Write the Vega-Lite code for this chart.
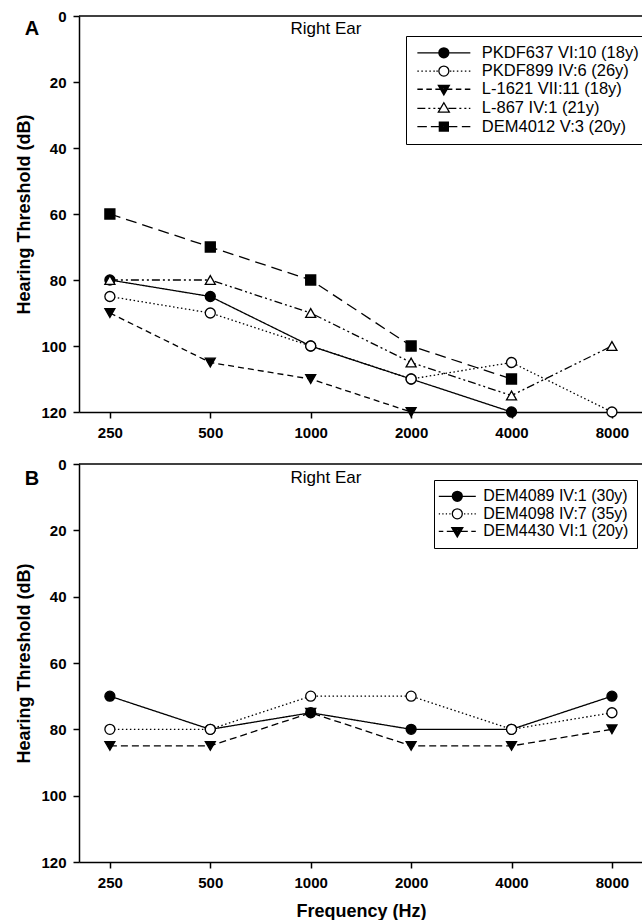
{
  "$schema": "https://vega.github.io/schema/vega-lite/v6.json",
  "padding": {"left": 15, "top": 9, "right": 0, "bottom": 0},
  "autosize": {"type": "pad"},
  "background": "white",
  "config": {
    "font": "Liberation Sans",
    "view": {"stroke": null},
    "axis": {"domainColor": "black", "domainWidth": 1.5, "tickColor": "black", "tickWidth": 1.5, "tickSize": 6, "labelColor": "black", "labelFont": "Liberation Sans", "labelFontSize": 15, "labelFontWeight": "bold", "titleFont": "Liberation Sans", "titleFontSize": 18, "titleFontWeight": "bold", "titleColor": "black", "grid": false, "labelFlush": false},
    "legend": {"labelFont": "Liberation Sans", "labelFontSize": 16.5, "labelColor": "black", "labelLimit": 300},
    "text": {"font": "Liberation Sans", "color": "black"},
    "point": {"size": 100, "strokeWidth": 1.3, "stroke": "black", "opacity": 1, "filled": true}
  },
  "datasets": {
    "a": [
      {"subject": "PKDF637 VI:10 (18y)", "freq": 250, "db": 80},
      {"subject": "PKDF637 VI:10 (18y)", "freq": 500, "db": 85},
      {"subject": "PKDF637 VI:10 (18y)", "freq": 1000, "db": 100},
      {"subject": "PKDF637 VI:10 (18y)", "freq": 2000, "db": 110},
      {"subject": "PKDF637 VI:10 (18y)", "freq": 4000, "db": 120},
      {"subject": "PKDF899 IV:6 (26y)", "freq": 250, "db": 85},
      {"subject": "PKDF899 IV:6 (26y)", "freq": 500, "db": 90},
      {"subject": "PKDF899 IV:6 (26y)", "freq": 1000, "db": 100},
      {"subject": "PKDF899 IV:6 (26y)", "freq": 2000, "db": 110},
      {"subject": "PKDF899 IV:6 (26y)", "freq": 4000, "db": 105},
      {"subject": "PKDF899 IV:6 (26y)", "freq": 8000, "db": 120},
      {"subject": "L-1621 VII:11 (18y)", "freq": 250, "db": 90},
      {"subject": "L-1621 VII:11 (18y)", "freq": 500, "db": 105},
      {"subject": "L-1621 VII:11 (18y)", "freq": 1000, "db": 110},
      {"subject": "L-1621 VII:11 (18y)", "freq": 2000, "db": 120},
      {"subject": "L-867 IV:1 (21y)", "freq": 250, "db": 80},
      {"subject": "L-867 IV:1 (21y)", "freq": 500, "db": 80},
      {"subject": "L-867 IV:1 (21y)", "freq": 1000, "db": 90},
      {"subject": "L-867 IV:1 (21y)", "freq": 2000, "db": 105},
      {"subject": "L-867 IV:1 (21y)", "freq": 4000, "db": 115},
      {"subject": "L-867 IV:1 (21y)", "freq": 8000, "db": 100},
      {"subject": "DEM4012 V:3 (20y)", "freq": 250, "db": 60},
      {"subject": "DEM4012 V:3 (20y)", "freq": 500, "db": 70},
      {"subject": "DEM4012 V:3 (20y)", "freq": 1000, "db": 80},
      {"subject": "DEM4012 V:3 (20y)", "freq": 2000, "db": 100},
      {"subject": "DEM4012 V:3 (20y)", "freq": 4000, "db": 110}
    ],
    "b": [
      {"subject": "DEM4089 IV:1 (30y)", "freq": 250, "db": 70},
      {"subject": "DEM4089 IV:1 (30y)", "freq": 500, "db": 80},
      {"subject": "DEM4089 IV:1 (30y)", "freq": 1000, "db": 75},
      {"subject": "DEM4089 IV:1 (30y)", "freq": 2000, "db": 80},
      {"subject": "DEM4089 IV:1 (30y)", "freq": 4000, "db": 80},
      {"subject": "DEM4089 IV:1 (30y)", "freq": 8000, "db": 70},
      {"subject": "DEM4098 IV:7 (35y)", "freq": 250, "db": 80},
      {"subject": "DEM4098 IV:7 (35y)", "freq": 500, "db": 80},
      {"subject": "DEM4098 IV:7 (35y)", "freq": 1000, "db": 70},
      {"subject": "DEM4098 IV:7 (35y)", "freq": 2000, "db": 70},
      {"subject": "DEM4098 IV:7 (35y)", "freq": 4000, "db": 80},
      {"subject": "DEM4098 IV:7 (35y)", "freq": 8000, "db": 75},
      {"subject": "DEM4430 VI:1 (20y)", "freq": 250, "db": 85},
      {"subject": "DEM4430 VI:1 (20y)", "freq": 500, "db": 85},
      {"subject": "DEM4430 VI:1 (20y)", "freq": 1000, "db": 75},
      {"subject": "DEM4430 VI:1 (20y)", "freq": 2000, "db": 85},
      {"subject": "DEM4430 VI:1 (20y)", "freq": 4000, "db": 85},
      {"subject": "DEM4430 VI:1 (20y)", "freq": 8000, "db": 80}
    ]
  },
  "resolve": {
    "scale": {"shape": "independent", "strokeDash": "independent"},
    "legend": {"shape": "independent", "strokeDash": "independent"}
  },
  "spacing": 17,
  "vconcat": [
    {
      "width": 564,
      "height": 396,
      "data": {"name": "a"},
      "layer": [
        {
          "data": {"values": [{}]},
          "mark": {"type": "rule", "color": "black", "strokeWidth": 1.5},
          "encoding": {"y": {"datum": 0, "type": "quantitative"}}
        },
        {
          "mark": {"type": "line", "color": "black", "strokeWidth": 1.3},
          "encoding": {
            "x": {"field": "freq", "type": "quantitative", "scale": {"type": "log", "base": 2, "domain": [202, 9913], "nice": false},
                  "axis": {"orient": "bottom", "values": [250, 500, 1000, 2000, 4000, 8000], "format": "d", "title": null, "labelPadding": 7}},
            "y": {"field": "db", "type": "quantitative", "scale": {"domain": [0, 120], "reverse": true, "nice": false, "zero": false},
                  "axis": {"values": [0, 20, 40, 60, 80, 100, 120], "title": "Hearing Threshold (dB)", "labelPadding": 7, "titlePadding": 7}},
            "strokeDash": {"field": "subject", "type": "nominal", "sort": null,
              "scale": {"range": [[1, 0], [1.5, 2.5], [6, 4], [8, 3, 2, 3, 2, 3], [11, 6]]},
              "legend": null}
          }
        },
        {
          "mark": {"type": "point", "filled": false, "color": "black", "opacity": 0, "strokeWidth": 1.3},
          "encoding": {
            "x": {"field": "freq", "type": "quantitative"},
            "y": {"field": "db", "type": "quantitative"},
            "shape": {"field": "subject", "type": "nominal",
              "scale": {"domain": ["PKDF637 VI:10 (18y)", "PKDF899 IV:6 (26y)", "L-1621 VII:11 (18y)", "L-867 IV:1 (21y)", "DEM4012 V:3 (20y)"],
                "range": [
                  "M-5.3,0H5.3M1,0A1,1 0 1,1 -1,0A1,1 0 1,1 1,0ZM0.75,0A0.75,0.75 0 1,1 -0.75,0A0.75,0.75 0 1,1 0.75,0ZM0.5,0A0.5,0.5 0 1,1 -0.5,0A0.5,0.5 0 1,1 0.5,0ZM0.25,0A0.25,0.25 0 1,1 -0.25,0A0.25,0.25 0 1,1 0.25,0Z",
                  "M-5.3,0h0.3M-4.5,0h0.3M-3.7,0h0.3M-2.9,0h0.3M-2.1,0h0.3M-1.5,0h0.3M1.2,0h0.3M1.8,0h0.3M2.6,0h0.3M3.4,0h0.3M4.2,0h0.3M5.0,0h0.3M1,0A1,1 0 1,1 -1,0A1,1 0 1,1 1,0Z",
                  "M-5.3,0H-4.2M-3.5,0H-2.4M-1.7,0H-0.7M0.7,0H1.7M2.4,0H3.5M4.2,0H5.3M-1.1,-0.75L1.1,-0.75L0,1.15ZM-0.825,-0.592L0.825,-0.592L0,0.834ZM-0.55,-0.433L0.55,-0.433L0,0.517ZM-0.275,-0.275L0.275,-0.275L0,0.2Z",
                  "M-5.3,0H-3.7M-3.1,0H-2.7M-2.1,0H-1.7M-1.2,0H-0.8M0.9,0H2.5M3.1,0H3.5M4.1,0H4.5M5.0,0H5.3M-1.1,0.75L1.1,0.75L0,-1.15Z",
                  "M-5.3,0H-3.4M-2.6,0H-0.9M0.9,0H2.7M3.6,0H5.3M-0.9,-0.9H0.9V0.9H-0.9ZM-0.65,-0.65H0.65V0.65H-0.65ZM-0.4,-0.4H0.4V0.4H-0.4ZM-0.15,-0.15H0.15V0.15H-0.15Z"
                ]},
              "legend": {"title": null, "orient": "none", "legendX": 327, "legendY": 20, "symbolSize": 100, "symbolStrokeWidth": 1.3, "symbolOpacity": 1, "symbolOffset": 21, "labelOffset": 29.7, "strokeColor": "black", "padding": 8.6, "rowPadding": 1.2}}
          }
        },
        {
          "transform": [{"filter": {"field": "subject", "equal": "PKDF637 VI:10 (18y)"}}],
          "mark": {"type": "point", "shape": "circle", "fill": "black"},
          "encoding": {"x": {"field": "freq", "type": "quantitative"}, "y": {"field": "db", "type": "quantitative"}}
        },
        {
          "transform": [{"filter": {"field": "subject", "equal": "PKDF899 IV:6 (26y)"}}],
          "mark": {"type": "point", "shape": "circle", "fill": "white"},
          "encoding": {"x": {"field": "freq", "type": "quantitative"}, "y": {"field": "db", "type": "quantitative"}}
        },
        {
          "transform": [{"filter": {"field": "subject", "equal": "L-1621 VII:11 (18y)"}}],
          "mark": {"type": "point", "shape": "triangle-down", "fill": "black"},
          "encoding": {"x": {"field": "freq", "type": "quantitative"}, "y": {"field": "db", "type": "quantitative"}}
        },
        {
          "transform": [{"filter": {"field": "subject", "equal": "L-867 IV:1 (21y)"}}],
          "mark": {"type": "point", "shape": "triangle-up", "fill": "white"},
          "encoding": {"x": {"field": "freq", "type": "quantitative"}, "y": {"field": "db", "type": "quantitative"}}
        },
        {
          "transform": [{"filter": {"field": "subject", "equal": "DEM4012 V:3 (20y)"}}],
          "mark": {"type": "point", "shape": "square", "fill": "black"},
          "encoding": {"x": {"field": "freq", "type": "quantitative"}, "y": {"field": "db", "type": "quantitative"}}
        },
        {
          "data": {"values": [{}]},
          "mark": {"type": "text", "fontSize": 17, "align": "center", "baseline": "middle"},
          "encoding": {"x": {"datum": 1111, "type": "quantitative"}, "y": {"datum": 3.9, "type": "quantitative"}, "text": {"value": "Right Ear"}}
        },
        {
          "data": {"values": [{}]},
          "mark": {"type": "text", "fontSize": 20, "fontWeight": "bold", "align": "center", "baseline": "middle"},
          "encoding": {"x": {"datum": 146, "type": "quantitative"}, "y": {"datum": 3.8, "type": "quantitative"}, "text": {"value": "A"}}
        }
      ]
    },
    {
      "width": 564,
      "height": 398,
      "data": {"name": "b"},
      "layer": [
        {
          "data": {"values": [{}]},
          "mark": {"type": "rule", "color": "black", "strokeWidth": 1.5},
          "encoding": {"y": {"datum": 0, "type": "quantitative"}}
        },
        {
          "mark": {"type": "line", "color": "black", "strokeWidth": 1.3},
          "encoding": {
            "x": {"field": "freq", "type": "quantitative", "scale": {"type": "log", "base": 2, "domain": [202, 9913], "nice": false},
                  "axis": {"orient": "bottom", "values": [250, 500, 1000, 2000, 4000, 8000], "format": "d", "title": "Frequency (Hz)", "labelPadding": 7, "titlePadding": 12}},
            "y": {"field": "db", "type": "quantitative", "scale": {"domain": [0, 120], "reverse": true, "nice": false, "zero": false},
                  "axis": {"values": [0, 20, 40, 60, 80, 100, 120], "title": "Hearing Threshold (dB)", "labelPadding": 7, "titlePadding": 7}},
            "strokeDash": {"field": "subject", "type": "nominal", "sort": null,
              "scale": {"range": [[1, 0], [1.5, 2.5], [7, 4]]},
              "legend": null}
          }
        },
        {
          "mark": {"type": "point", "filled": false, "color": "black", "opacity": 0, "strokeWidth": 1.3},
          "encoding": {
            "x": {"field": "freq", "type": "quantitative"},
            "y": {"field": "db", "type": "quantitative"},
            "shape": {"field": "subject", "type": "nominal",
              "scale": {"domain": ["DEM4089 IV:1 (30y)", "DEM4098 IV:7 (35y)", "DEM4430 VI:1 (20y)"],
                "range": [
                  "M-3.7,0H3.7M1,0A1,1 0 1,1 -1,0A1,1 0 1,1 1,0ZM0.75,0A0.75,0.75 0 1,1 -0.75,0A0.75,0.75 0 1,1 0.75,0ZM0.5,0A0.5,0.5 0 1,1 -0.5,0A0.5,0.5 0 1,1 0.5,0ZM0.25,0A0.25,0.25 0 1,1 -0.25,0A0.25,0.25 0 1,1 0.25,0Z",
                  "M-3.7,0h0.25M-3.0,0h0.25M-2.3,0h0.25M-1.6,0h0.25M1.35,0h0.25M2.05,0h0.25M2.75,0h0.25M3.45,0h0.25M1,0A1,1 0 1,1 -1,0A1,1 0 1,1 1,0Z",
                  "M-3.7,0H-2.8M-2.1,0H-0.7M0.7,0H2.1M2.8,0H3.7M-1.1,-0.75L1.1,-0.75L0,1.15ZM-0.825,-0.592L0.825,-0.592L0,0.834ZM-0.55,-0.433L0.55,-0.433L0,0.517ZM-0.275,-0.275L0.275,-0.275L0,0.2Z"
                ]},
              "legend": {"title": null, "orient": "none", "legendX": 355, "legendY": 16, "symbolSize": 100, "symbolStrokeWidth": 1.3, "symbolOpacity": 1, "symbolOffset": 7, "labelOffset": 18, "strokeColor": "black", "padding": 8.3, "rowPadding": 1.5, "labelFontSize": 16}}
          }
        },
        {
          "transform": [{"filter": {"field": "subject", "equal": "DEM4430 VI:1 (20y)"}}],
          "mark": {"type": "point", "shape": "triangle-down", "fill": "black"},
          "encoding": {"x": {"field": "freq", "type": "quantitative"}, "y": {"field": "db", "type": "quantitative"}}
        },
        {
          "transform": [{"filter": {"field": "subject", "equal": "DEM4089 IV:1 (30y)"}}],
          "mark": {"type": "point", "shape": "circle", "fill": "black"},
          "encoding": {"x": {"field": "freq", "type": "quantitative"}, "y": {"field": "db", "type": "quantitative"}}
        },
        {
          "transform": [{"filter": {"field": "subject", "equal": "DEM4098 IV:7 (35y)"}}],
          "mark": {"type": "point", "shape": "circle", "fill": "white"},
          "encoding": {"x": {"field": "freq", "type": "quantitative"}, "y": {"field": "db", "type": "quantitative"}}
        },
        {
          "data": {"values": [{}]},
          "mark": {"type": "text", "fontSize": 17, "align": "center", "baseline": "middle"},
          "encoding": {"x": {"datum": 1111, "type": "quantitative"}, "y": {"datum": 4.2, "type": "quantitative"}, "text": {"value": "Right Ear"}}
        },
        {
          "data": {"values": [{}]},
          "mark": {"type": "text", "fontSize": 20, "fontWeight": "bold", "align": "center", "baseline": "middle"},
          "encoding": {"x": {"datum": 146, "type": "quantitative"}, "y": {"datum": 4.5, "type": "quantitative"}, "text": {"value": "B"}}
        }
      ]
    }
  ]
}
